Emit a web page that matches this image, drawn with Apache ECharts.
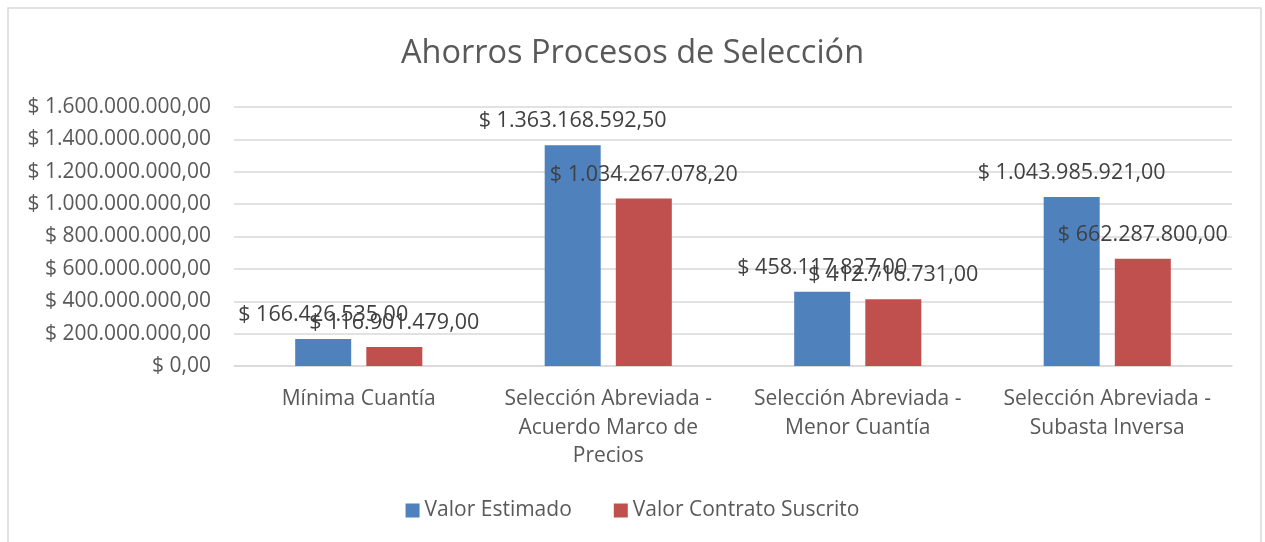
<!DOCTYPE html>
<html>
<head>
<meta charset="utf-8">
<script src="https://cdn.jsdelivr.net/npm/echarts@6/dist/echarts.min.js"></script>
<style>
  html, body { margin: 0; padding: 0; background: #fff; }
  #chart { width: 1265px; height: 542px; }
</style>
</head>
<body>
<div id="chart"></div>
<script>
// categorías y series
const categories = [
  "Mínima Cuantía",
  "Selección Abreviada -\nAcuerdo Marco de\nPrecios",
  "Selección Abreviada -\nMenor Cuantía",
  "Selección Abreviada -\nSubasta Inversa"
]
const valorEstimado = [166426535.00, 1363168592.50, 458117827.00, 1043985921.00]
const valorContrato = [116901479.00, 1034267078.20, 412716731.00, 662287800.00]
const yTicks = { min: 0, max: 1600000000, interval: 200000000 }

// formato pesos: $ 1.234.567,89
const fmt = (v) => {
  const [ent, dec] = Number(v).toFixed(2).split(".")
  return "$ " + ent.replace(/\B(?=(\d{3})+(?!\d))/g, ".") + "," + dec
}

const font = "'Open Sans', 'Noto Sans', sans-serif"
const chart = echarts.init(document.getElementById("chart"))

const labelStyle = {
  show: true,
  position: "top",
  distance: 13,
  color: "#404040",
  fontSize: 21.5,
  fontFamily: font,
  formatter: (p) => fmt(p.value)
}

chart.setOption({
  animation: false,
  textStyle: { fontFamily: font },
  title: {
    text: "Ahorros Procesos de Selección",
    left: "center",
    top: 32,
    textStyle: { color: "#595959", fontSize: 32.5, fontWeight: "normal", fontFamily: font }
  },
  graphic: [{
    type: "rect",
    shape: { x: 8, y: 8, width: 1253, height: 560 },
    style: { fill: "none", stroke: "#d9d9d9", lineWidth: 1.5 },
    silent: true
  }],
  legend: {
    bottom: 16,
    left: "center",
    itemWidth: 14,
    itemHeight: 14,
    itemGap: 42,
    icon: "rect",
    textStyle: { color: "#595959", fontSize: 21, fontFamily: font },
    data: ["Valor Estimado", "Valor Contrato Suscrito"]
  },
  grid: { left: 234, right: 33, top: 107, bottom: 176, containLabel: false },
  xAxis: {
    type: "category",
    data: categories,
    axisLine: { lineStyle: { color: "#d9d9d9", width: 1.5 } },
    axisTick: { show: false },
    axisLabel: {
      color: "#595959",
      fontSize: 21,
      lineHeight: 28.5,
      margin: 19,
      interval: 0,
      fontFamily: font
    }
  },
  yAxis: {
    type: "value",
    min: yTicks.min,
    max: yTicks.max,
    interval: yTicks.interval,
    axisLine: { show: false },
    axisTick: { show: false },
    splitLine: { lineStyle: { color: "#d9d9d9", width: 1.5 } },
    axisLabel: {
      color: "#595959",
      fontSize: 21,
      margin: 23,
      fontFamily: font,
      formatter: (v) => fmt(v)
    }
  },
  series: [
    {
      name: "Valor Estimado",
      type: "bar",
      data: valorEstimado,
      barWidth: 56,
      barGap: "27%",
      itemStyle: { color: "#4F81BD" },
      label: labelStyle
    },
    {
      name: "Valor Contrato Suscrito",
      type: "bar",
      data: valorContrato,
      barWidth: 56,
      itemStyle: { color: "#C0504D" },
      label: labelStyle
    }
  ]
})
</script>
</body>
</html>
